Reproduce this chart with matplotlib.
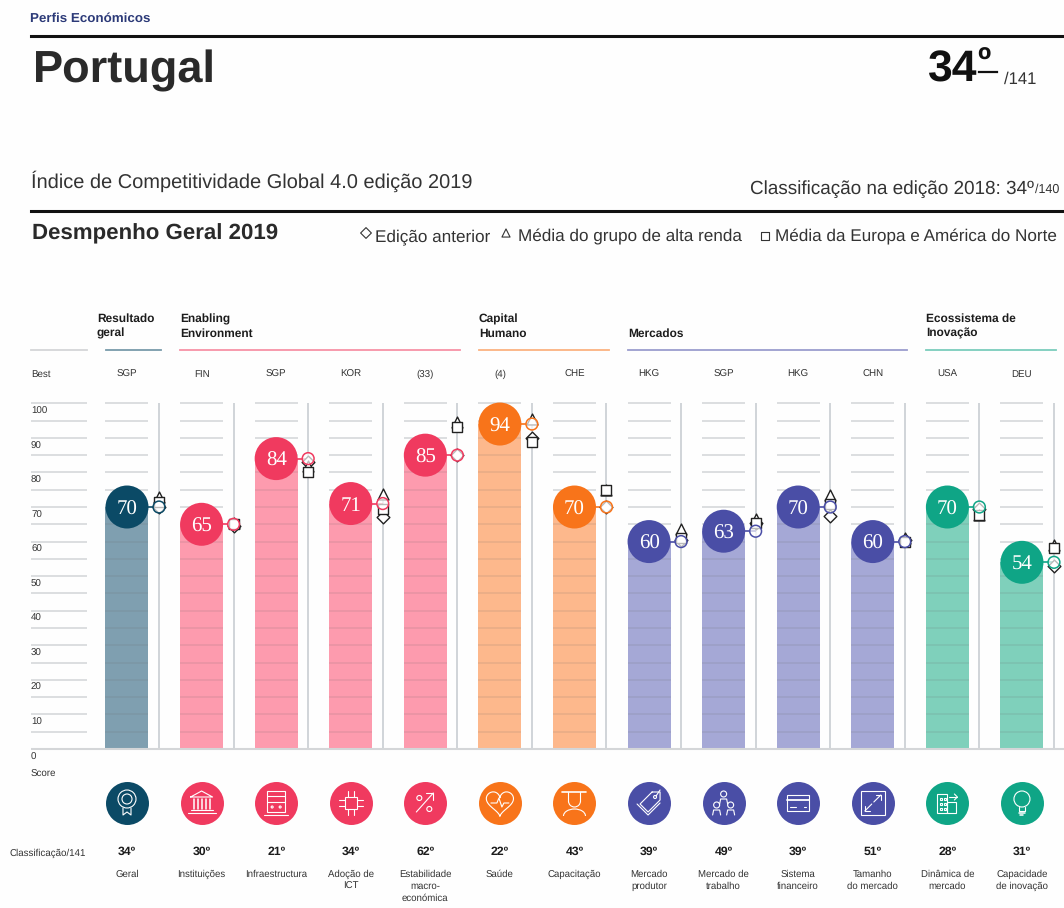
import numpy as np
import matplotlib
matplotlib.use('Agg')
import matplotlib.pyplot as plt
from matplotlib.patches import Circle, Rectangle, Arc

plt.rcParams['font.family'] = ['Liberation Sans', 'DejaVu Sans']
plt.rcParams['text.hinting'] = 'no_hinting'

# dados
best = ['SGP', 'FIN', 'SGP', 'KOR', '(33)', '(4)', 'CHE', 'HKG', 'SGP', 'HKG', 'CHN', 'USA', 'DEU']
scores = [70, 65, 84, 71, 85, 94, 70, 60, 63, 70, 60, 70, 54]
previous = [70, 64.5, 83, 67.2, 85, 90, 70, 60.5, 65.5, 67.5, 60.5, 69.5, 53]
high_income = [72.8, 65.5, 82, 73.8, 94.5, 95.6, 75, 63.5, 66.5, 73.5, 61, 67.8, 59]
europe = [71.5, 65, 80, 69.5, 93.2, 88.7, 75, 61, 65.5, 71, 60, 67.8, 58]
ranks = ['34º', '30º', '21º', '34º', '62º', '22º', '43º', '39º', '49º', '39º', '51º', '28º', '31º']
labels = ['Geral', 'Instituições', 'Infraestructura', 'Adoção de\nICT', 'Estabilidade\nmacro-\neconómica',
          'Saúde', 'Capacitação', 'Mercado\nprodutor', 'Mercado de\ntrabalho', 'Sistema\nfinanceiro',
          'Tamanho\ndo mercado', 'Dinâmica de\nmercado', 'Capacidade\nde inovação']
groups = [0, 1, 1, 1, 1, 2, 2, 3, 3, 3, 3, 4, 4]
group_names = ['Resultado\ngeral', 'Enabling\nEnvironment', 'Capital\nHumano', 'Mercados', 'Ecossistema de\nInovação']
group_spans = [(106, 161), (180, 460), (479, 609), (628, 907), (926, 1056)]
dark = ['#0b4a66', '#f03a5f', '#f8741a', '#4a4ea6', '#0fa586']
light = ['#7f9fb0', '#fd9bae', '#fdb88c', '#a5a8d6', '#7fd0bb']
yticks = [0, 10, 20, 30, 40, 50, 60, 70, 80, 90, 100]
grid = np.arange(0, 105, 5)

W, H = 1064, 908
fig = plt.figure(figsize=(W / 100, H / 100), dpi=100, facecolor='#fefefe')

# eixo do grafico: x = indice da coluna, y = score
x0, dx = 127, 74.58
y0, dy = 749, 3.457
ax = fig.add_axes([0, 0, 1, 1], facecolor='none')
ax.set_xlim(-x0 / dx, (W - x0) / dx)
ax.set_ylim((y0 - H) / dy, y0 / dy)
ax.axis('off')

# eixo em pixels para os textos e icones
px = fig.add_axes([0, 0, 1, 1], facecolor='none', zorder=5)
px.set_xlim(0, W)
px.set_ylim(H, 0)
px.axis('off')

xs = np.arange(len(scores))
bar_w = 43 / dx
off = 32 / dx
bar_col = [light[g] for g in groups]
dot_col = [dark[g] for g in groups]

# grelha por baixo e por cima das barras
for g in grid:
    ax.hlines(np.full(len(xs), g), xs - bar_w / 2, xs + bar_w / 2, color='#d6d8da', lw=1.2, zorder=1)
    ax.hlines(g, (31 - x0) / dx, (87 - x0) / dx, color='#d6d8da', lw=1.2, zorder=1)
ax.bar(xs, scores, width=bar_w, color=bar_col, zorder=2)
for g in grid:
    vis = np.array(scores) > g
    ax.hlines(np.full(vis.sum(), g), xs[vis] - bar_w / 2, xs[vis] + bar_w / 2, color='#666666', alpha=0.14, lw=1.2, zorder=3)
ax.vlines(xs + off, 0, 100, color='#c9cdd2', lw=1.2, zorder=1)
ax.hlines(0, (31 - x0) / dx, (W - x0) / dx, color='#d4d6d8', lw=1.5, zorder=3)

for v in yticks:
    ax.text((31 - x0) / dx, v - 2, str(v), fontsize=7, color='#333333', ha='left', va='center_baseline')

# marcadores de comparacao, o quadrado tapa o triangulo como na original
ax.hlines(scores, xs, xs + off, colors=dot_col, lw=1.2, zorder=3)
ax.scatter(xs + off, previous, marker='D', s=42, facecolor='white', edgecolor='#222222', lw=1, zorder=4)
ax.scatter(xs + off, high_income, marker='^', s=62, facecolor='white', edgecolor='#222222', lw=1, zorder=4.1)
ax.scatter(xs + off, europe, marker='s', s=50, facecolor='white', edgecolor='#222222', lw=1, zorder=4.2)
ax.scatter(xs + off, scores, marker='o', s=72, facecolor='#ffffffb0', edgecolor=dot_col, lw=1.1, zorder=5)
ax.scatter(xs, scores, marker='o', s=958, color=dot_col, lw=0, zorder=6)
for i in xs:
    ax.text(i, scores[i], str(scores[i]), color='white', fontsize=15, ha='center', va='center_baseline',
            family='Liberation Serif', zorder=7)

# cabecalho
px.text(30, 19, 'Perfis Económicos', fontsize=9.6, weight='bold', color='#2c3a78', va='center')
px.plot([31, W], [36, 36], color='#111111', lw=2.2)
px.text(33, 71, 'Portugal', fontsize=32.5, weight='bold', color='#2a2a2a', va='center')
px.text(928, 70, '34', fontsize=32, weight='bold', color='#111111', va='center')
px.text(977, 63, 'º', fontsize=26, weight='bold', color='#111111', va='center')
px.plot([979, 997], [72, 72], color='#111111', lw=1.6)
px.text(1004, 79, '/141', fontsize=12, color='#333333', va='center')
px.text(31, 181, 'Índice de Competitividade Global 4.0 edição 2019', fontsize=14.4, color='#333333', va='center')
px.text(1034, 189, 'Classificação na edição 2018: 34º', fontsize=13.6, color='#333333', va='center', ha='right')
px.text(1035, 190, '/140', fontsize=9, color='#333333', va='center', ha='left')
px.plot([31, W], [211, 211], color='#111111', lw=2.2)
px.text(32, 234, 'Desmpenho Geral 2019', fontsize=16, weight='bold', color='#2a2a2a', va='center')

# legenda
px.scatter([366], [233], marker='D', s=30, facecolor='none', edgecolor='#333333', lw=0.8)
px.text(375, 237, 'Edição anterior', fontsize=12.3, color='#333333', va='center')
px.scatter([506], [233], marker='^', s=34, facecolor='none', edgecolor='#333333', lw=0.8)
px.text(518, 237, 'Média do grupo de alta renda', fontsize=12.3, color='#333333', va='center')
px.scatter([765], [236], marker='s', s=40, facecolor='none', edgecolor='#333333', lw=0.8)
px.text(775, 237, 'Média da Europa e América do Norte', fontsize=12.3, color='#333333', va='center')

# grupos
px.plot([31, 87], [350, 350], color='#d4d6d8', lw=1.3)
for i in range(len(group_names)):
    a, b = group_spans[i]
    px.plot([a, b], [350, 350], color=dark[i], lw=1.3, alpha=0.55)
    px.text(a - 9 if i == 0 else a, 339, group_names[i], fontsize=8.6, weight='bold', color='#1c1c1c',
            va='bottom', ha='left', linespacing=1.35)

px.text(31, 373, 'Best', fontsize=7, color='#333333', va='center_baseline')
px.text(31, 773, 'Score', fontsize=7, color='#333333', va='center_baseline')
px.text(10, 852, 'Classificação/141', fontsize=7, color='#333333', va='center_baseline')


# icones
def L(pts, lw=0.8):
    p = np.array(pts, dtype=float)
    px.plot(p[:, 0], p[:, 1], color='white', lw=lw, solid_capstyle='round', zorder=8)


def R(x, y, w, h):
    px.add_patch(Rectangle((x, y), w, h, fc='none', ec='white', lw=0.8, zorder=8))


def C(x, y, r):
    px.add_patch(Circle((x, y), r, fc='none', ec='white', lw=0.8, zorder=8))


def icon(i, x, y):
    if i == 0:  # medalha
        C(x, y - 4, 9)
        C(x, y - 4, 5)
        L([(x - 4, y + 5), (x - 4, y + 12), (x, y + 9), (x + 4, y + 12), (x + 4, y + 5)])
    elif i == 1:  # edificio
        L([(x - 11, y - 6), (x, y - 12), (x + 11, y - 6), (x - 11, y - 6)])
        for d in [-8, -4, 0, 4, 8]:
            L([(x + d, y - 4), (x + d, y + 6)], 1.1)
        L([(x - 11, y + 7), (x + 11, y + 7)])
        L([(x - 14, y + 10), (x + 14, y + 10)])
    elif i == 2:  # comboio
        R(x - 9, y - 12, 18, 21)
        L([(x - 9, y - 7), (x + 9, y - 7)])
        L([(x - 9, y - 1), (x + 9, y - 1)])
        C(x - 4, y + 4, 1)
        C(x + 4, y + 4, 1)
        L([(x - 12, y + 12), (x + 12, y + 12)])
    elif i == 3:  # chip
        R(x - 6, y - 6, 12, 12)
        for d in [-3, 3]:
            L([(x + d, y - 12), (x + d, y - 6)])
            L([(x + d, y + 6), (x + d, y + 12)])
            L([(x - 12, y + d), (x - 6, y + d)])
            L([(x + 6, y + d), (x + 12, y + d)])
    elif i == 4:  # percentagem
        C(x - 6, y - 5, 2.5)
        C(x + 4, y + 6, 2.5)
        L([(x - 9, y + 9), (x + 8, y - 10)])
        L([(x + 1, y - 10), (x + 8, y - 10), (x + 8, y - 3)])
    elif i == 5:  # coracao
        t = np.linspace(0, 2 * np.pi, 60)
        hx = 0.85 * 16 * np.sin(t) ** 3
        hy = -0.85 * (13 * np.cos(t) - 5 * np.cos(2 * t) - 2 * np.cos(3 * t) - np.cos(4 * t))
        L(np.column_stack([x + hx, y + hy - 1]))
        L([(x - 9, y), (x - 3, y), (x - 1, y - 5), (x + 2, y + 4), (x + 4, y), (x + 9, y)])
    elif i == 6:  # capacitacao
        L([(x - 12, y - 11), (x + 12, y - 11)], 1.2)
        L([(x - 6, y - 11), (x - 6, y - 2)])
        L([(x + 6, y - 11), (x + 6, y - 2)])
        px.add_patch(Arc((x, y - 2), 12, 12, theta1=0, theta2=180, ec='white', lw=0.8, zorder=8))
        px.add_patch(Arc((x, y + 13), 22, 14, theta1=180, theta2=360, ec='white', lw=0.8, zorder=8))
    elif i == 7:  # etiqueta
        L([(x + 3, y - 11), (x + 11, y - 11), (x + 11, y - 3), (x - 1, y + 9), (x - 9, y + 1), (x + 3, y - 11)])
        L([(x - 12, y + 1), (x - 1, y + 12), (x + 11, y)])
        C(x + 6, y - 6, 1.5)
        L([(x + 7, y - 7), (x + 11, y - 13)])
    elif i == 8:  # pessoas
        for a, b in [(x, y - 9), (x - 7, y + 2), (x + 7, y + 2)]:
            C(a, b, 3)
            L([(a - 4, b + 10), (a - 3, b + 5), (a + 3, b + 5), (a + 4, b + 10)])
    elif i == 9:  # cartao
        R(x - 11, y - 8, 22, 16)
        L([(x - 11, y - 3), (x + 11, y - 3)], 1.3)
        L([(x - 8, y + 4), (x - 2, y + 4)])
        L([(x + 6, y + 4), (x + 8, y + 4)])
    elif i == 10:  # tamanho
        R(x - 12, y - 12, 24, 24)
        L([(x - 8, y + 8), (x - 1, y + 1)])
        L([(x - 8, y + 3), (x - 8, y + 8), (x - 3, y + 8)])
        L([(x + 8, y - 8), (x + 1, y - 1)])
        L([(x + 3, y - 8), (x + 8, y - 8), (x + 8, y - 3)])
    elif i == 11:  # predios
        R(x - 10, y - 9, 10, 19)
        R(x, y - 1, 9, 11)
        for a in [-7, -3]:
            for b in [-5, 0, 5]:
                R(x + a, y + b, 1.5, 1.5)
        L([(x + 2, y - 6), (x + 10, y - 6)])
        L([(x + 7, y - 9), (x + 10, y - 6), (x + 7, y - 3)])
    else:  # lampada
        C(x, y - 4, 8)
        L([(x - 3, y + 4), (x - 3, y + 8), (x + 3, y + 8), (x + 3, y + 4)])
        L([(x - 3, y + 10), (x + 3, y + 10)], 1.1)
        L([(x - 1.5, y + 12), (x + 1.5, y + 12)], 1.1)


for i in xs:
    cx = x0 + i * dx
    px.scatter([cx], [803], s=958, color=dot_col[i], lw=0, zorder=7)
    icon(i, cx, 803)
    px.text(cx, 851, ranks[i], fontsize=8.8, weight='bold', color='#1c1c1c', ha='center', va='center_baseline')
    px.text(cx, 870, labels[i], fontsize=6.9, color='#333333', ha='center', va='top', linespacing=1.35)
    px.text(cx, 373, best[i], fontsize=7, color='#333333', ha='center', va='center_baseline')

fig.savefig('out.png', dpi=100, facecolor=fig.get_facecolor())
